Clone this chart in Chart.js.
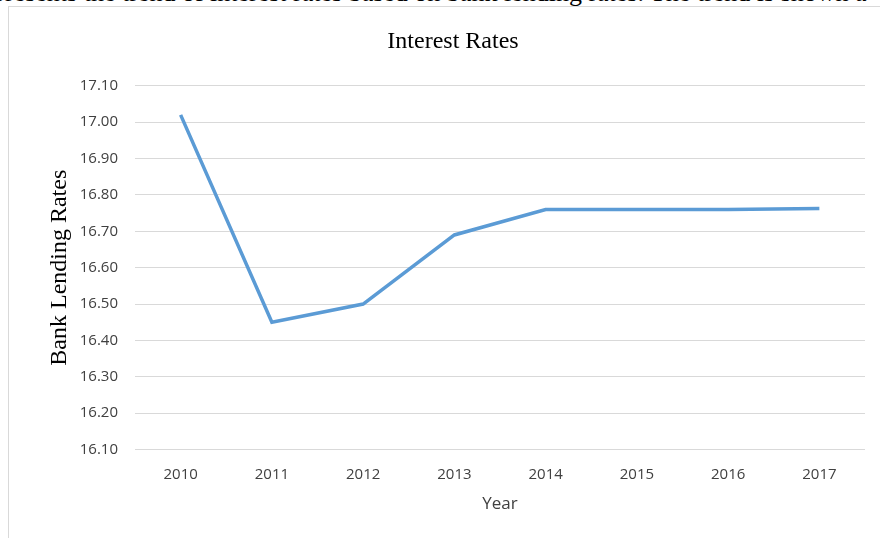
<!DOCTYPE html>
<html>
<head>
    <title>Interest Rates</title>
    <script src="https://cdn.jsdelivr.net/npm/chart.js"></script>
    <style>
        body {
            margin: 0;
            width: 880px;
            height: 538px;
            overflow: hidden;
            background: #fff;
            position: relative;
        }
        .caption {
            position: absolute;
            left: -8px;
            top: -22.5px;
            font-family: "Liberation Serif", "Times New Roman", serif;
            font-size: 26px;
            white-space: nowrap;
            color: #000;
        }
        .frame {
            position: absolute;
            left: 8px;
            top: 6px;
            width: 900px;
            height: 560px;
            border: 1px solid #d9d9d9;
        }
        .chart-box {
            position: absolute;
            left: 9px;
            top: 7px;
            width: 888px;
            height: 531px;
        }
    </style>
</head>
<body>
    <div class="caption">presents the trend of interest rates based on bank lending rates. The trend is shown a</div>
    <div class="frame"></div>
    <div class="chart-box">
        <canvas id="ratesChart"></canvas>
    </div>

    <script>
        // chart data
        var years = ['2010', '2011', '2012', '2013', '2014', '2015', '2016', '2017'];
        var lendingRates = [17.02, 16.45, 16.50, 16.69, 16.76, 16.76, 16.76, 16.763];
        var yMin = 16.10;
        var yMax = 17.10;
        var yStep = 0.10;

        var tickFont = { family: 'Open Sans', size: 15 };
        var serifFont = { family: 'Liberation Serif', size: 24, weight: 'normal' };

        var ctx = document.getElementById('ratesChart').getContext('2d');
        var ratesChart = new Chart(ctx, {
            type: 'line',
            data: {
                labels: years,
                datasets: [{
                    label: 'Bank Lending Rates',
                    data: lendingRates,
                    borderColor: '#5b9bd5',
                    backgroundColor: '#5b9bd5',
                    borderWidth: 3.5,
                    pointRadius: 0,
                    tension: 0,
                    fill: false
                }]
            },
            options: {
                responsive: true,
                maintainAspectRatio: false,
                animation: false,
                layout: {
                    padding: { left: 32, right: 32, top: 0, bottom: 20 }
                },
                plugins: {
                    legend: { display: false },
                    tooltip: { enabled: false },
                    title: {
                        display: true,
                        text: 'Interest Rates',
                        color: '#000',
                        font: serifFont,
                        padding: { top: 20, bottom: 30 }
                    }
                },
                scales: {
                    x: {
                        offset: true,
                        grid: { display: false },
                        border: { display: false },
                        ticks: {
                            color: '#404040',
                            font: tickFont,
                            padding: 8
                        },
                        title: {
                            display: true,
                            text: 'Year',
                            color: '#404040',
                            font: { family: 'Open Sans', size: 17 },
                            padding: { top: 2 }
                        }
                    },
                    y: {
                        min: yMin,
                        max: yMax,
                        grid: {
                            color: '#d9d9d9',
                            lineWidth: 1,
                            drawTicks: false
                        },
                        border: { display: false },
                        ticks: {
                            stepSize: yStep,
                            color: '#404040',
                            font: tickFont,
                            padding: 17,
                            callback: function (value) {
                                return Number(value).toFixed(2);
                            }
                        },
                        title: {
                            display: true,
                            text: 'Bank Lending Rates',
                            color: '#000',
                            font: serifFont,
                            padding: { top: 4, bottom: 0 }
                        },
                        afterFit: function (scale) {
                            scale.width = 94;
                        }
                    }
                }
            }
        });
    </script>
</body>
</html>
